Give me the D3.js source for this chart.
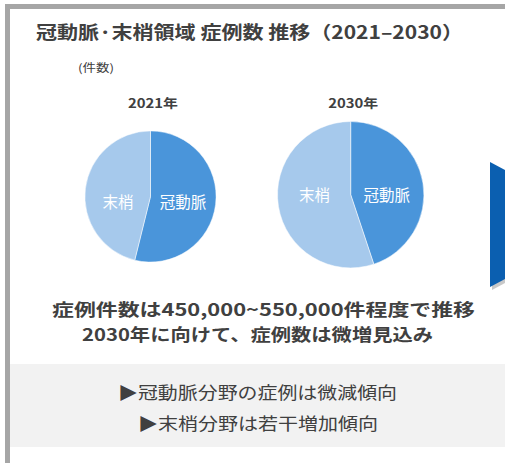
<!DOCTYPE html>
<html><head><meta charset="utf-8">
<script src="https://cdn.jsdelivr.net/npm/d3@7"></script>
<style>
html,body{margin:0;padding:0;background:#fff;}
svg{display:block;font-family:"Noto Sans CJK JP","Noto Sans",sans-serif;}
</style></head>
<body>
<svg id="c" width="505" height="463"></svg>
<script>
const title = "冠動脈·末梢領域 症例数 推移（2021–2030）";
const unitLabel = "(件数)";
const years = ["2021年", "2030年"];
const segments = ["冠動脈", "末梢"];
const coronary = [237000, 246000];
const peripheral = [203000, 302000];
const summaryLines = ["症例件数は450,000~550,000件程度で推移", "2030年に向けて、症例数は微増見込み"];
const notes = ["▶冠動脈分野の症例は微減傾向", "▶末梢分野は若干増加傾向"];

const svg = d3.select("#c");
const textColor = "#404040";

// frame
svg.append("rect").attr("x", 5).attr("y", 4).attr("width", 500).attr("height", 5).attr("fill", "#a6a6a6");
svg.append("rect").attr("x", 5).attr("y", 4).attr("width", 5).attr("height", 459).attr("fill", "#a6a6a6");

// title
svg.append("text").attr("x", 36).attr("y", 39).attr("fill", textColor)
  .attr("font-size", 18).attr("font-weight", "bold")
  .attr("textLength", 427).attr("lengthAdjust", "spacingAndGlyphs")
  .text(title);
svg.append("text").attr("x", 96).attr("y", 72).attr("text-anchor", "middle")
  .attr("fill", textColor).attr("font-size", 11)
  .attr("textLength", 36).attr("lengthAdjust", "spacingAndGlyphs").text(unitLabel);

// pies
const totals = coronary.map((v, i) => v + peripheral[i]);
const rScale = d3.scaleSqrt().domain([0, d3.max(totals)]).range([0, 73.2]);
const xPos = d3.scalePoint().domain(years).range([150.5, 350.7]);
const color = d3.scaleOrdinal().domain(segments).range(["#4a95da", "#a6c9ec"]);
const pie = d3.pie().sort(null).value(d => d.value);
const centerY = [196.5, 194.7];

years.forEach((yr, i) => {
  const r = rScale(totals[i]);
  const cx = xPos(yr), cy = centerY[i];
  const g = svg.append("g").attr("transform", `translate(${cx},${cy})`);
  const data = [{key: segments[0], value: coronary[i]}, {key: segments[1], value: peripheral[i]}];
  const arcs = pie(data);
  const arc = d3.arc().innerRadius(0).outerRadius(r);
  g.selectAll("path").data(arcs).join("path")
    .attr("d", arc).attr("fill", d => color(d.data.key))
    .attr("stroke", "#fff").attr("stroke-width", 0.5);
  const labelArc = d3.arc().innerRadius(r * 0.5).outerRadius(r * 0.5);
  g.selectAll("text.lbl").data(arcs).join("text").attr("class", "lbl")
    .attr("x", d => labelArc.centroid(d)[0])
    .attr("y", 11 - 5 * i)
    .attr("text-anchor", "middle").attr("fill", "#fff").attr("font-size", 15.5)
    .text(d => d.data.key);
  svg.append("text").attr("x", cx + 2.5).attr("y", 108).attr("text-anchor", "middle")
    .attr("fill", textColor).attr("font-size", 12.5).attr("font-weight", "bold")
    .attr("textLength", 50).attr("lengthAdjust", "spacingAndGlyphs").text(yr);
});

// arrow
svg.append("path").attr("d", "M492,165 L507,173 L507,282 L492,290 Z").attr("fill", "#b0b0b0").attr("opacity", 0.7);
svg.append("path").attr("d", "M490,162 L505,170 L505,279 L490,287 Z").attr("fill", "#0b5fb0");

// summary
const summaryX = [263.5, 257.5], summaryW = [423, 351];
summaryLines.forEach((t, i) => {
  svg.append("text").attr("x", summaryX[i]).attr("y", 316 + 25 * i).attr("text-anchor", "middle")
    .attr("fill", textColor).attr("font-size", 17).attr("font-weight", "bold")
    .attr("textLength", summaryW[i]).attr("lengthAdjust", "spacingAndGlyphs").text(t);
});

// gray box
svg.append("rect").attr("x", 10).attr("y", 364).attr("width", 495).attr("height", 83).attr("fill", "#f2f2f2");
const noteX = [257.5, 258], noteW = [279, 240];
notes.forEach((t, i) => {
  svg.append("text").attr("x", noteX[i]).attr("y", 399 + 31 * i).attr("text-anchor", "middle")
    .attr("fill", textColor).attr("font-size", 17)
    .attr("textLength", noteW[i]).attr("lengthAdjust", "spacingAndGlyphs").text(t);
});
</script>
</body></html>
